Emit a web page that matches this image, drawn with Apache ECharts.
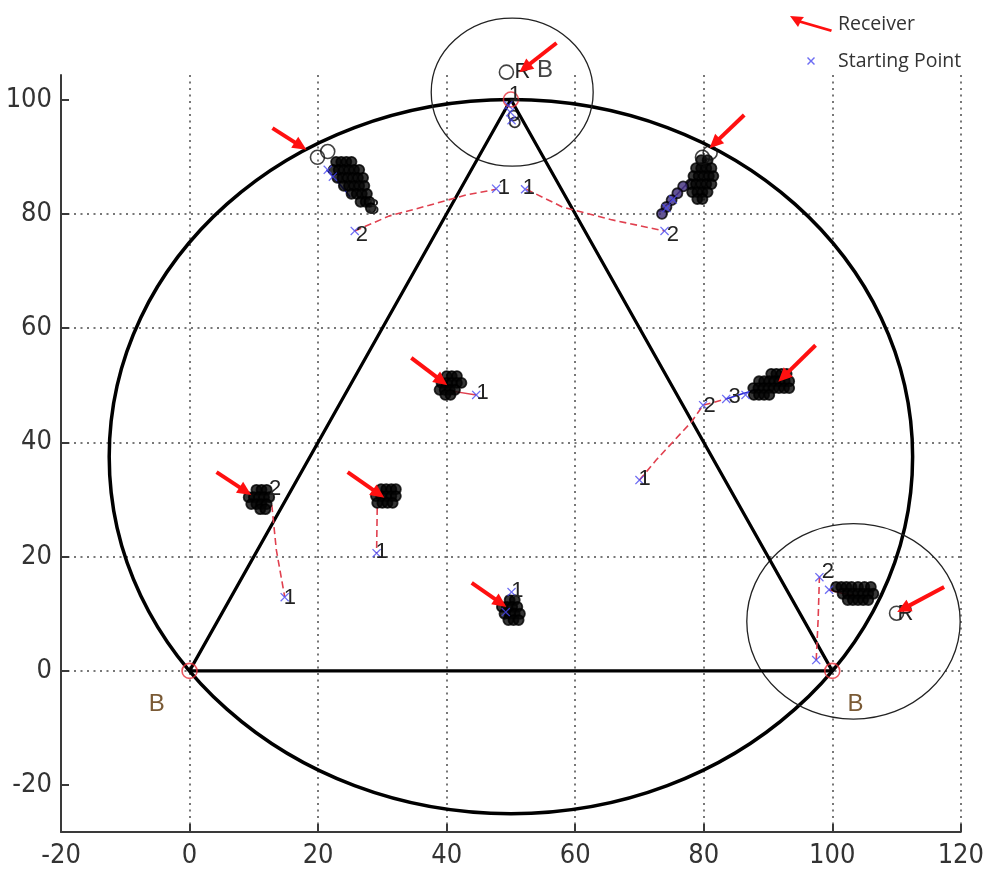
<!DOCTYPE html>
<html><head><meta charset="utf-8">
<script src="https://cdn.jsdelivr.net/npm/echarts@6/dist/echarts.min.js"></script>
<style>html,body{margin:0;padding:0;background:#fff}#c{width:987px;height:872px}</style>
</head><body><div id="c"></div>
<script>
// ---- axes ----
const xTicks = [-20, 0, 20, 40, 60, 80, 100, 120];
const yTicks = [-20, 0, 20, 40, 60, 80, 100];

// ---- geometry (data units) ----
const coverageCircle = [[50, 37.5, 62.5]];            // cx, cy, r
const zoomCircles = [[50.2, 101.3, 12.6, 12.95], [103.3, 8.66, 16.6, 17.1]]; // cx, cy, rx, ry
const triangle = [[0, 0], [100, 0], [50, 100], [0, 0]];
const anchors = [[0, 0], [100, 0], [50, 100]];
const anchorLabels = [[-5.1, -5.9], [103.6, -5.9], [55.3, 105.1]];
const anchorText = ['B', 'B', 'B'];

// ---- receivers (black o) and R tags ----
const receivers = [[19.9, 89.9], [21.5, 90.9], [79.8, 89.9], [81.0, 90.7], [49.3, 104.8], [110.0, 10.1]];
const rTags = [[51.8, 104.8], [111.4, 9.9]];

// ---- receiver arrows: x1, y1, x2(tip), y2(tip) ----
const arrows = [
  [12.9, 95.0, 18.2, 91.2], [57.1, 109.9, 51.3, 104.8], [86.3, 97.3, 80.9, 91.5],
  [34.5, 54.8, 40.1, 50.0], [97.4, 57.0, 91.6, 50.6], [4.2, 34.8, 9.6, 30.8],
  [24.6, 34.8, 30.3, 30.3], [43.9, 15.4, 49.3, 11.2], [117.4, 14.7, 110.1, 10.3]
];

// ---- dashed estimation paths ----
const pathA = [[25.7, 77.0], [31.0, 79.6], [37.3, 81.5], [43.0, 83.3], [47.7, 84.3]];
const pathB = [[52.4, 84.3], [58.0, 81.2], [65.5, 79.0], [73.9, 77.0]];
const pathE = [[70.0, 33.4], [72.6, 36.9], [78.1, 43.6], [79.9, 46.5], [83.5, 47.6]];
const pathF = [[12.8, 29.0], [13.5, 21.2], [14.8, 13.0]];
const pathG = [[29.2, 28.5], [29.1, 20.6]];
const pathI = [[97.5, 1.9], [97.8, 9.0], [98.0, 16.4]];
const pathD = [[40.1, 49.1], [44.6, 48.3]];

// ---- trajectories inside clusters ----
const trackA = [[21.3, 87.7], [23.2, 85.4], [25.0, 83.0]];
const trackB = [[73.1, 80.3], [75.5, 83.0], [78.0, 86.0]];
const trackE = [[83.5, 47.6], [86.0, 48.5], [88.5, 49.3]];
const trackI = [[99.5, 14.2], [101.5, 13.6], [103.5, 13.2]];

// ---- clusters of estimates (black o) ----
const blobA = [[22.8,89.1],[23.6,89.1],[24.4,89.1],[25.2,89.1],
  [22.4,87.7],[23.2,87.7],[24.0,87.7],[24.8,87.7],[25.6,87.7],[26.4,87.7],
  [23.0,86.3],[23.8,86.3],[24.6,86.3],[25.4,86.3],[26.2,86.3],[27.0,86.3],
  [24.0,84.9],[24.8,84.9],[25.6,84.9],[26.4,84.9],[27.2,84.9],
  [25.2,83.5],[26.0,83.5],[26.8,83.5],[27.6,83.5],[26.6,82.1],[27.4,82.1],[28.0,82.1],[28.2,81.0]];
const blobB = [[79.6,89.4],[80.6,89.4],
  [78.8,88.0],[79.6,88.0],[80.4,88.0],[81.2,88.0],
  [78.4,86.6],[79.2,86.6],[80.0,86.6],[80.8,86.6],[81.5,86.6],
  [78.0,85.2],[78.8,85.2],[79.6,85.2],[80.4,85.2],[81.2,85.2],
  [78.2,83.8],[79.0,83.8],[79.8,83.8],[80.6,83.8],[79.0,82.6],[79.8,82.6]];
const trailB = [[76.8,84.8],[75.9,83.6],[75.0,82.4],[74.2,81.2],[73.5,80.0]];
const blobC = [[50.4, 97.2], [50.6, 96.0]];
const blobD = [[40.0,51.6],[40.8,51.6],[41.6,51.6],
  [39.2,50.4],[40.0,50.4],[40.8,50.4],[41.6,50.4],[42.3,50.4],
  [38.9,49.2],[39.7,49.2],[40.5,49.2],[41.3,49.2],[39.8,48.3],[40.6,48.3]];
const blobE = [[90.5,52.0],[91.3,52.0],[92.1,52.0],[92.9,52.0],
  [88.6,50.7],[89.4,50.7],[90.2,50.7],[91.0,50.7],[91.8,50.7],[92.6,50.7],[93.3,50.7],
  [87.7,49.5],[88.5,49.5],[89.3,49.5],[90.1,49.5],[90.9,49.5],[91.7,49.5],[92.5,49.5],[93.3,49.5],
  [87.8,48.3],[88.6,48.3],[89.4,48.3],[90.2,48.3]];
const blobF = [[10.4,31.7],[11.2,31.7],[12.0,31.7],
  [9.2,30.4],[10.0,30.4],[10.8,30.4],[11.6,30.4],[12.4,30.4],
  [9.6,29.2],[10.4,29.2],[11.2,29.2],[12.0,29.2],[11.0,28.3],[11.8,28.3]];
const blobG = [[29.8,31.8],[30.6,31.8],[31.4,31.8],[32.1,31.8],
  [29.0,30.6],[29.8,30.6],[30.6,30.6],[31.4,30.6],[32.1,30.6],
  [29.2,29.4],[30.0,29.4],[30.8,29.4],[31.6,29.4]];
const blobH = [[49.8,12.4],[50.6,12.4],
  [48.6,11.2],[49.4,11.2],[50.2,11.2],[51.0,11.2],
  [49.0,10.0],[49.8,10.0],[50.6,10.0],[51.4,10.0],[49.6,8.9],[50.4,8.9],[51.2,8.9]];
const blobI = [[100.6,14.7],[101.4,14.7],[102.2,14.7],[103.0,14.7],[104.0,14.7],[105.0,14.7],[106.0,14.7],
  [101.6,13.5],[102.4,13.5],[103.2,13.5],[104.0,13.5],[104.8,13.5],[105.6,13.5],[106.4,13.5],
  [102.4,12.4],[103.2,12.4],[104.0,12.4],[104.8,12.4],[105.6,12.4]];

// ---- starting points (blue x) ----
const startPoints = [[25.7,77.0],[21.5,87.7],[22.3,86.5],[47.7,84.4],[52.2,84.3],[73.9,77.0],[74.2,81.0],[75.2,82.5],
  [49.6,99.0],[49.9,97.8],[50.1,96.4],[44.6,48.3],[70.0,33.4],[79.9,46.5],[83.5,47.6],[86.5,48.3],
  [14.8,12.9],[29.1,20.6],[50.1,13.8],[49.2,10.3],[98.0,16.4],[99.5,14.2],[97.5,1.9]];

// ---- iteration labels ----
const iterPos = [[26.8,76.3],[28.6,81.1],[48.9,84.6],[52.8,84.6],[75.2,76.3],[50.6,100.8],[45.6,48.6],
  [70.8,33.6],[80.9,46.3],[84.8,48.0],[13.3,31.8],[15.6,12.8],[29.9,20.8],[51.0,14.0],[99.3,17.3]];
const iterText = ['2','3','1','1','2','1','1','1','2','3','2','1','1','1','2'];

const seriesNames = ['Receiver', 'Starting Point'];

const xPath = 'path://M0,1L1,0L5,4L9,0L10,1L6,5L10,9L9,10L5,6L1,10L0,9L4,5Z';
const arrowIcon = 'path://M0,0L14,1L11,4.5L42,13.5L41,16L10,7L8,11Z';
const xIcon = 'path://M0,0M44,16M18,5L19,4L22,7L25,4L26,5L23,8L26,11L25,12L22,9L19,12L18,11L21,8Z';

const chart = echarts.init(document.getElementById('c'), null, {renderer: 'canvas'});

function dashed(data) {
  return {type: 'line', data, symbol: 'none', silent: true, z: 3,
    lineStyle: {color: '#e0404f', width: 1.6, type: [7, 4]}};
}
function solid(data, color) {
  return {type: 'line', data, symbol: 'none', silent: true, z: 3, lineStyle: {color, width: 1.5}};
}
function blob(data, fill) {
  return {type: 'scatter', data, symbol: 'circle', symbolSize: 10, clip: false, silent: true, z: 4,
    itemStyle: {color: fill || '#050505', borderColor: '#000', borderWidth: 1.8}};
}
function textSeries(pos, texts, color, font) {
  return {type: 'custom', data: pos, silent: true, z: 7, clip: false,
    encode: {x: 0, y: 1},
    renderItem: (params, api) => {
      const p = api.coord([api.value(0), api.value(1)]);
      return {type: 'text', x: p[0], y: p[1],
        style: {text: texts[params.dataIndex], fill: color, font, align: 'center', verticalAlign: 'middle'}};
    }};
}

const axisFont = "'Liberation Sans Narrow', 'DejaVu Sans Condensed', sans-serif";

const option = {
  animation: false,
  backgroundColor: '#fff',
  grid: {left: 61, right: 24, top: 75, bottom: 40, containLabel: false},
  legend: {
    left: 789, top: 14, padding: 0, orient: 'vertical', itemWidth: 44, itemHeight: 16, itemGap: 17,
    selectedMode: false,
    textStyle: {fontFamily: "'Open Sans', sans-serif", fontSize: 19.5, color: '#333'},
    data: [{name: seriesNames[0], icon: arrowIcon}, {name: seriesNames[1], icon: xIcon}]
  },
  xAxis: {
    type: 'value', min: xTicks[0], max: xTicks[xTicks.length - 1], interval: 20,
    axisLine: {show: true, onZero: false, lineStyle: {color: '#3a3a3a', width: 2}},
    axisTick: {show: true, inside: true, length: 8, lineStyle: {color: '#3a3a3a', width: 2}, customValues: xTicks},
    axisLabel: {color: '#333', fontSize: 27, fontFamily: axisFont, margin: 10, customValues: xTicks},
    splitLine: {show: true, lineStyle: {color: '#777', width: 2, type: [2, 4.5]}}
  },
  yAxis: {
    type: 'value', min: -28.2, max: 104.3, minInterval: 20, maxInterval: 20,
    axisLine: {show: true, onZero: false, lineStyle: {color: '#3a3a3a', width: 2}},
    axisTick: {show: true, inside: true, length: 8, lineStyle: {color: '#3a3a3a', width: 2}, customValues: yTicks},
    axisLabel: {color: '#333', fontSize: 27, fontFamily: axisFont, margin: 9, customValues: yTicks},
    splitLine: {show: true, showMinLine: false, showMaxLine: false, lineStyle: {color: '#777', width: 2, type: [2, 4.5]}}
  },
  series: [
    {type: 'custom', data: coverageCircle, encode: {x: 0, y: 1}, silent: true, z: 2,
      renderItem: (params, api) => {
        const c = api.coord([api.value(0), api.value(1)]);
        const r = api.value(2);
        return {type: 'ellipse', shape: {cx: c[0], cy: c[1], rx: api.size([r, 0])[0], ry: api.size([0, r])[1]},
          style: {fill: 'none', stroke: '#000', lineWidth: 3.5}};
      }},
    {type: 'custom', data: zoomCircles, encode: {x: 0, y: 1}, silent: true, z: 2,
      renderItem: (params, api) => {
        const c = api.coord([api.value(0), api.value(1)]);
        return {type: 'ellipse', shape: {cx: c[0], cy: c[1], rx: api.size([api.value(2), 0])[0], ry: api.size([0, api.value(3)])[1]},
          style: {fill: 'none', stroke: '#222', lineWidth: 1.3}};
      }},
    {type: 'line', data: triangle, symbol: 'none', silent: true, z: 2, lineStyle: {color: '#000', width: 3.2}},
    dashed(pathA), dashed(pathB), dashed(pathE), dashed(pathF), dashed(pathG), dashed(pathI), solid(pathD, '#e0404f'),
    solid(trackA, '#2a2ad0'), solid(trackB, '#4a2a90'), solid(trackE, '#2a2ad0'), solid(trackI, '#d02030'),
    blob(blobA), blob(blobB), blob(trailB, '#3c2a78'), blob(blobC, 'rgba(0,0,0,0)'), blob(blobD), blob(blobE),
    blob(blobF), blob(blobG), blob(blobH), blob(blobI),
    {type: 'scatter', data: receivers, symbol: 'circle', symbolSize: 14, clip: false, silent: true, z: 5,
      itemStyle: {color: 'rgba(0,0,0,0)', borderColor: '#111', borderWidth: 1.6}},
    {type: 'scatter', data: anchors, symbol: 'circle', symbolSize: 15, clip: false, silent: true, z: 5,
      itemStyle: {color: 'rgba(0,0,0,0)', borderColor: '#e8303a', borderWidth: 1.6}},
    {name: seriesNames[1], type: 'scatter', data: startPoints, symbol: xPath, symbolSize: 9, clip: false, silent: true, z: 6,
      itemStyle: {color: '#4848f0'}},
    textSeries(iterPos, iterText, '#222', "22px 'Liberation Sans', sans-serif"),
    textSeries(rTags, ['R', 'R'], '#222', "22px 'Liberation Sans', sans-serif"),
    textSeries(anchorLabels.slice(0, 2), anchorText.slice(0, 2), '#7a5a35', "24px 'Liberation Sans Narrow', 'Liberation Sans', sans-serif"),
    textSeries(anchorLabels.slice(2), anchorText.slice(2), '#444', "24px 'Liberation Sans Narrow', 'Liberation Sans', sans-serif"),
    {name: seriesNames[0], type: 'custom', data: arrows, encode: {x: [0, 2], y: [1, 3]}, silent: true, z: 8, clip: false,
      itemStyle: {color: '#ff1010'},
      renderItem: (params, api) => {
        const a = api.coord([api.value(0), api.value(1)]);
        const b = api.coord([api.value(2), api.value(3)]);
        const dx = b[0] - a[0], dy = b[1] - a[1], L = Math.hypot(dx, dy), ux = dx / L, uy = dy / L;
        const hl = 14, hw = 6.5;
        const bx = b[0] - ux * hl, by = b[1] - uy * hl;
        return {type: 'group', children: [
          {type: 'line', shape: {x1: a[0], y1: a[1], x2: bx + ux * 2, y2: by + uy * 2}, style: {stroke: '#ff1010', lineWidth: 4}},
          {type: 'polygon', shape: {points: [[b[0], b[1]], [bx - uy * hw, by + ux * hw], [bx + uy * hw, by - ux * hw]]}, style: {fill: '#ff1010'}}
        ]};
      }}
  ]
};
chart.setOption(option);
</script></body></html>
